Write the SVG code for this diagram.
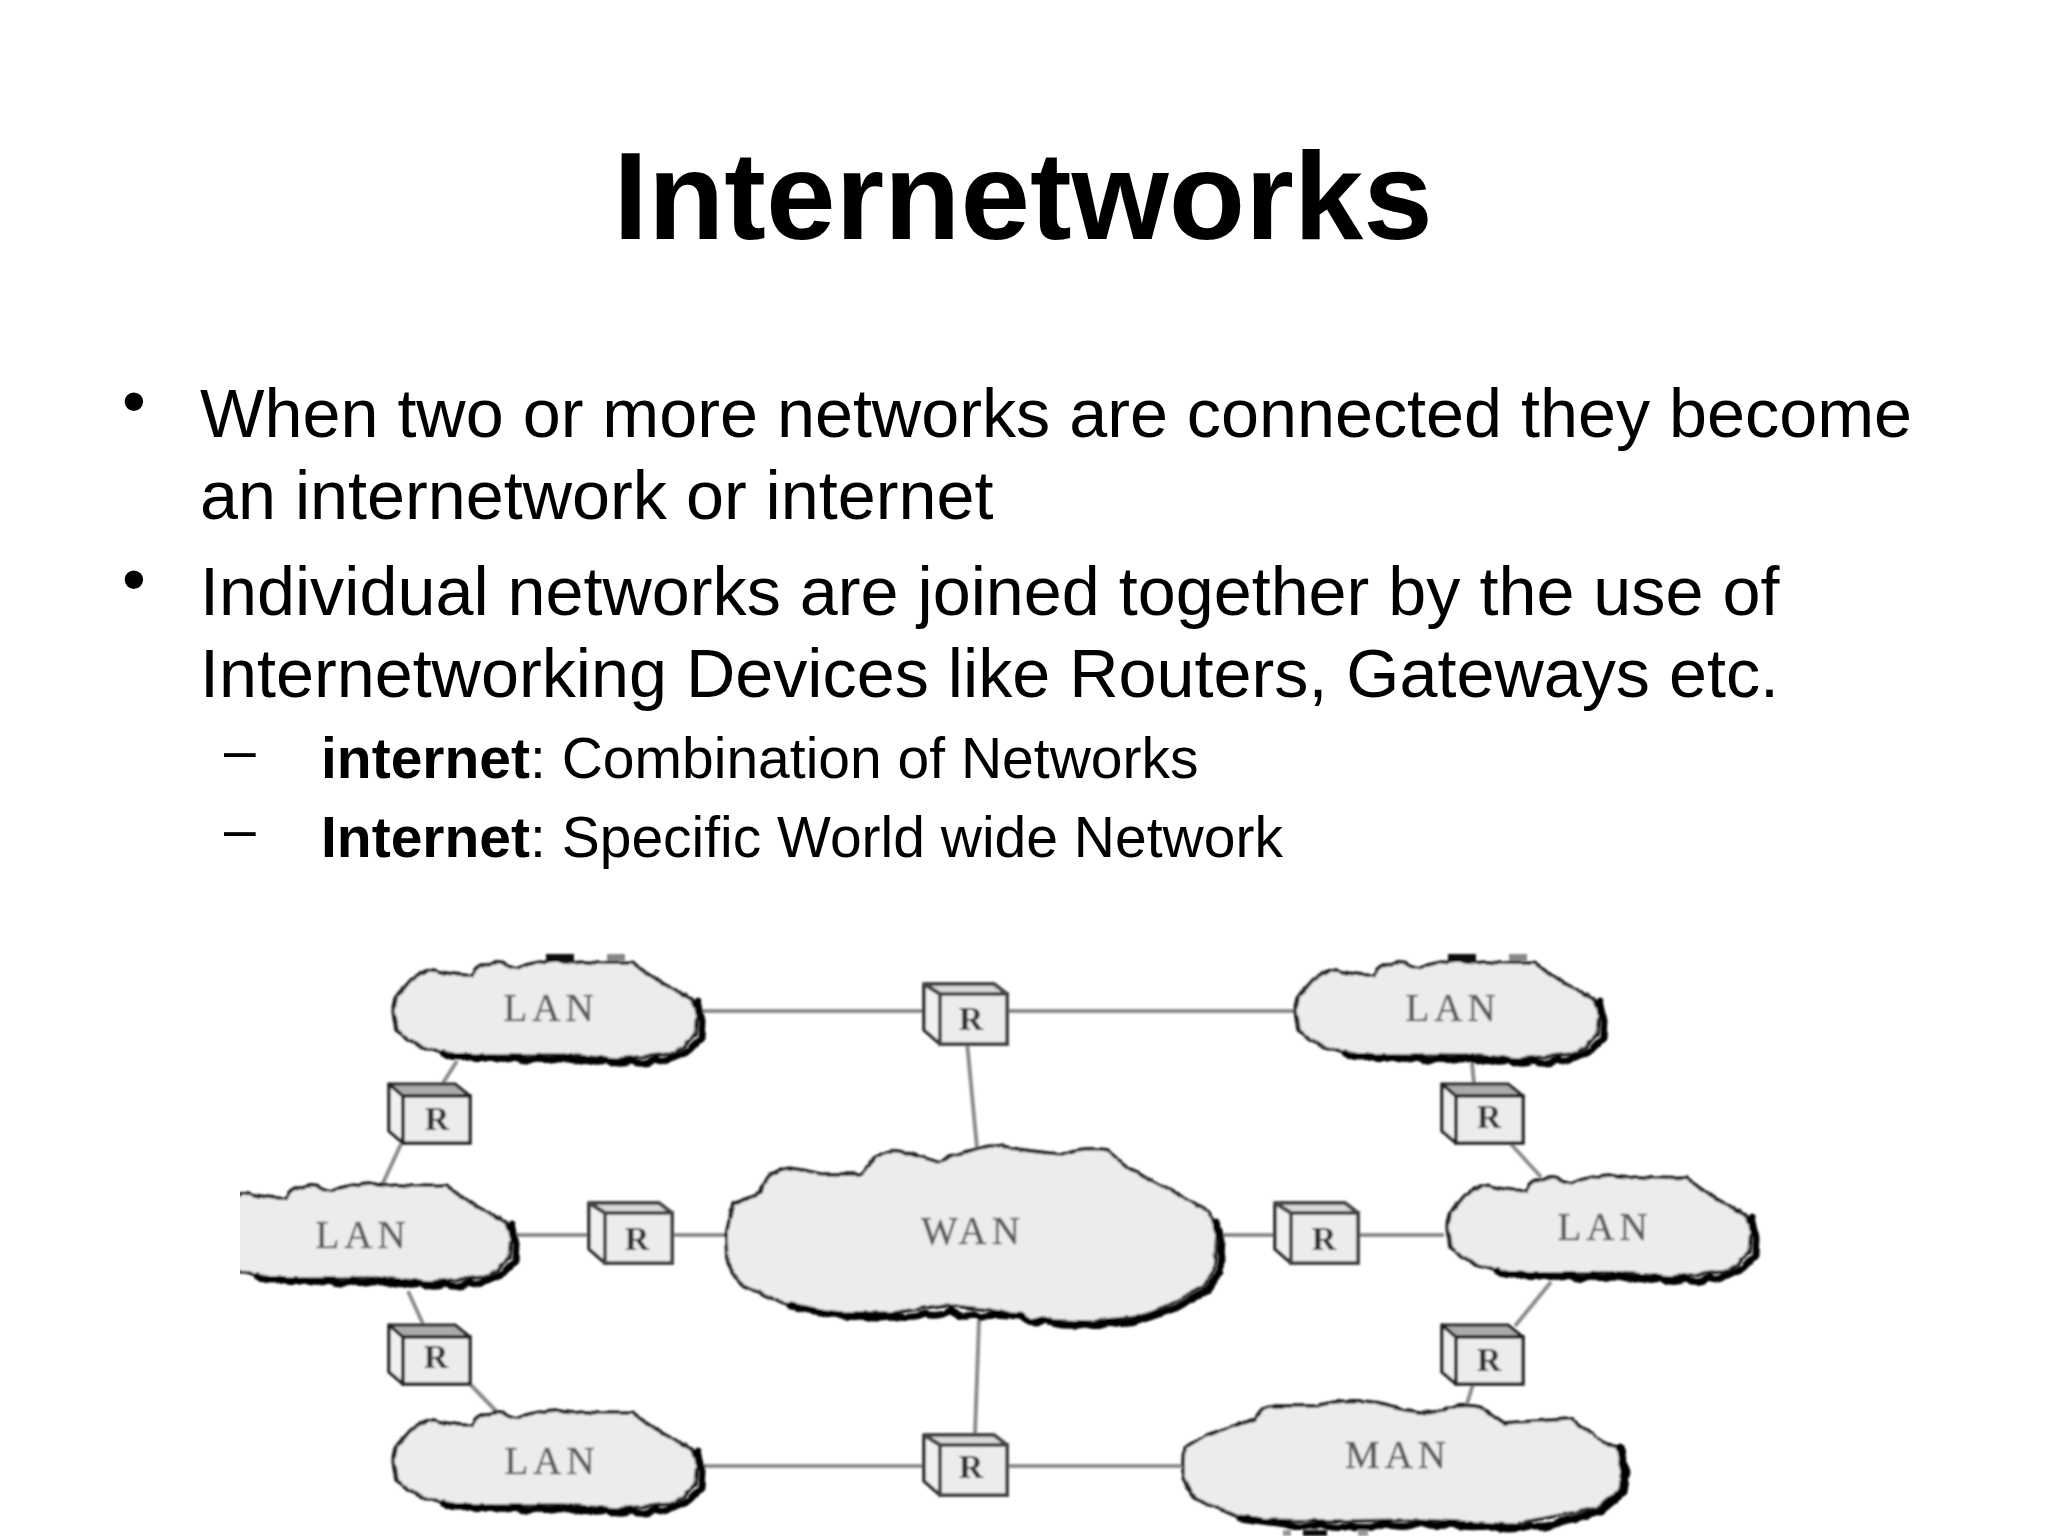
<svg xmlns="http://www.w3.org/2000/svg" width="2048" height="1536" viewBox="0 0 2048 1536">
<style>
.t{font-family:"Liberation Sans",Arial,sans-serif;fill:#000}
.b{font-size:68.3px}.s{font-size:57px}
.cl{fill:#ececec;stroke:#1e1e1e;stroke-width:3.5;stroke-linejoin:round}
.sh{fill:none;stroke:#000;stroke-width:7;stroke-linejoin:round;stroke-linecap:round}
.lb{font-family:"Liberation Serif",serif;font-size:39px;fill:#555;stroke:#777;stroke-width:.7;text-anchor:middle;letter-spacing:5px}
.rl{font-family:"Liberation Serif",serif;font-size:34px;font-weight:bold;fill:#333;text-anchor:middle}
.c{stroke:#8c8c8c;stroke-width:4;fill:none}
.f{fill:#ececec;stroke:#222;stroke-width:3.5}
.fd{fill:#ececec;stroke:#444;stroke-width:4}
.tp{fill:#aaa;stroke:#222;stroke-width:3;stroke-linejoin:round}
.tpd{fill:#d8d8d8;stroke:#444;stroke-width:4;stroke-linejoin:round}
.lf{fill:#f0f0f0;stroke:#222;stroke-width:3.5;stroke-linejoin:round}
</style>
<defs>
<filter id="soft" x="-5%" y="-5%" width="110%" height="110%"><feGaussianBlur stdDeviation="0.8"/></filter>
<filter id="rough" x="-5%" y="-10%" width="110%" height="120%"><feTurbulence type="fractalNoise" baseFrequency="0.07" numOctaves="2" seed="4"/><feDisplacementMap in="SourceGraphic" scale="5" xChannelSelector="R" yChannelSelector="G"/></filter>
<clipPath id="imgclip"><rect x="240" y="940" width="1530" height="596"/></clipPath>
<path id="lan" d="M0 51Q0 38 8 32Q14 24 18 20Q26 12 41 10Q62 16 79 15Q84 6 92 5Q102 1 112 4Q122 9 128 7Q145 1 163 0Q175 4 190 2Q215 4 240 3L260 18L298 39Q304 46 304 55L302 74L291 86L276 94L224 99L168 95L117 95L56 95L26 86L3 70Z"/>
<path id="lans" d="M304 42L309 60L308 78L296 90L278 98Q270 104 262 100Q250 106 238 101Q226 106 214 100Q204 105 192 99Q180 104 170 97Q158 103 146 98Q134 103 122 97Q110 102 98 97Q86 101 74 96Q62 99 50 93"/>
<g id="r">
<path class="lf" d="M0 0L14 12V59L0 47Z"/><path class="tp" d="M0 0H66L81 12H14Z"/><rect class="f" x="14" y="12" width="67" height="47"/>
</g>
<g id="rd">
<path class="lf" d="M0 0L16 10V60L0 46Z"/><path class="tpd" d="M0 0H70L83 10H16Z"/><path d="M16 10H83V16H16Z" fill="#555"/><rect class="fd" x="16" y="10" width="67" height="50"/>
</g>
</defs>
<rect width="2048" height="1536" fill="#fff"/>
<text class="t" x="1023" y="239" font-size="125" font-weight="bold" text-anchor="middle">Internetworks</text>
<g id="bullets">
<text class="t" x="122" y="424" font-size="68">•</text>
<text class="t b" x="200" y="437">When two or more networks are connected they become</text>
<text class="t b" x="200" y="519">an internetwork or internet</text>
<text class="t" x="122" y="602" font-size="68">•</text>
<text class="t b" x="200" y="615">Individual networks are joined together by the use of</text>
<text class="t b" x="200" y="697">Internetworking Devices like Routers, Gateways etc.</text>
<text class="t s" x="224" y="770">–</text>
<text class="t s" x="321" y="778"><tspan font-weight="bold">internet</tspan>: Combination of Networks</text>
<text class="t s" x="224" y="849">–</text>
<text class="t s" x="321" y="857"><tspan font-weight="bold">Internet</tspan>: Specific World wide Network</text>
</g>
<g clip-path="url(#imgclip)" filter="url(#soft)">
<g id="connectors" class="c">
<path d="M702 1011H924M1008 1011H1295M967 1042L977 1148M457 1061L443 1083M401 1144L383 1183M516 1235H590M671 1235H726M408 1291L423 1324M470 1384L496 1411M979 1320L975 1434M702 1466H924M1008 1466H1183M1472 1063L1474 1083M1510 1143L1541 1177M1224 1235H1274M1359 1235H1444M1551 1282L1515 1326M1473 1384L1467 1404"/>
</g>
<g id="lan-top-left" transform="translate(393 960)"><g filter="url(#rough)"><use href="#lan" class="cl"/><use href="#lans" class="sh"/></g><rect x="153" y="-6" width="28" height="7" fill="#111"/><rect x="214" y="-6" width="18" height="7" fill="#888"/></g>
<text class="lb" x="551" y="1021">LAN</text>
<g id="lan-top-right" transform="translate(1295 960)"><g filter="url(#rough)"><use href="#lan" class="cl"/><use href="#lans" class="sh"/></g><rect x="153" y="-6" width="28" height="7" fill="#111"/><rect x="214" y="-6" width="18" height="7" fill="#888"/></g>
<text class="lb" x="1453" y="1021">LAN</text>
<g id="lan-mid-left" transform="translate(207 1183)"><g filter="url(#rough)"><use href="#lan" class="cl"/><use href="#lans" class="sh"/></g></g>
<text class="lb" x="363" y="1248">LAN</text>
<g id="lan-mid-right" transform="translate(1447 1175) scale(1 1.03)"><g filter="url(#rough)"><use href="#lan" class="cl"/><use href="#lans" class="sh"/></g></g>
<text class="lb" x="1605" y="1240">LAN</text>
<g id="lan-bottom-left" transform="translate(393 1410)"><g filter="url(#rough)"><use href="#lan" class="cl"/><use href="#lans" class="sh"/></g></g>
<text class="lb" x="552" y="1474">LAN</text>
<g id="wan" filter="url(#rough)">
<path class="cl" d="M726 1235L733 1204L761 1193Q765 1176 771 1174Q785 1166 796 1169L822 1174L863 1174Q870 1158 878 1156Q890 1148 903 1152Q925 1158 937 1162Q965 1150 995 1145Q1030 1152 1061 1154Q1085 1146 1107 1150L1128 1168L1168 1189L1209 1212L1217 1235L1214 1270L1204 1286L1173 1303L1138 1317L1087 1322L1031 1320L1000 1311L944 1305L893 1313L842 1313L791 1307L740 1284L727 1262Z"/>
<path class="sh" d="M1216 1222L1222 1240L1220 1272L1208 1290L1176 1308L1140 1320Q1125 1326 1110 1322Q1098 1328 1085 1324Q1060 1328 1045 1320Q1030 1326 1020 1314Q1008 1320 995 1314Q985 1320 974 1314Q962 1320 950 1310Q940 1318 925 1314Q910 1320 893 1316Q875 1318 860 1316Q840 1318 820 1312L790 1306"/>
</g>
<text class="lb" x="973" y="1244">WAN</text>
<g id="man">
<g filter="url(#rough)">
<path class="cl" d="M1183 1460L1184 1448L1204 1436L1255 1419Q1262 1406 1270 1406L1316 1406Q1345 1398 1372 1402Q1405 1412 1434 1413Q1458 1402 1480 1407L1503 1423L1571 1419L1597 1438L1617 1448L1623 1471L1620 1490L1597 1508L1510 1525L1418 1520L1337 1521L1245 1520L1194 1498L1183 1479Z"/>
<path class="sh" d="M1620 1448L1627 1472L1624 1492L1600 1512L1560 1522Q1545 1530 1530 1526Q1510 1532 1490 1526Q1470 1528 1450 1524Q1435 1528 1420 1522Q1405 1530 1385 1524Q1370 1530 1350 1526Q1335 1530 1320 1524Q1300 1530 1285 1524L1240 1518"/>
</g>
<rect x="1303" y="1530" width="24" height="6" fill="#111"/><rect x="1283" y="1530" width="8" height="6" fill="#999"/><rect x="1358" y="1530" width="10" height="6" fill="#999"/>
</g>
<text class="lb" x="1398" y="1468">MAN</text>
<g id="r-top"><use href="#rd" x="924" y="984"/><text class="rl" x="971" y="1030">R</text></g>
<g id="r-tl"><use href="#r" x="389" y="1084"/><text class="rl" x="437" y="1130">R</text></g>
<g id="r-ml"><use href="#rd" x="589" y="1203"/><text class="rl" x="637" y="1250">R</text></g>
<g id="r-bl"><use href="#r" x="389" y="1325"/><text class="rl" x="436" y="1368">R</text></g>
<g id="r-bm"><use href="#rd" x="924" y="1435"/><text class="rl" x="971" y="1478">R</text></g>
<g id="r-tr"><use href="#r" x="1442" y="1084"/><text class="rl" x="1489" y="1128">R</text></g>
<g id="r-mr"><use href="#rd" x="1275" y="1203"/><text class="rl" x="1324" y="1250">R</text></g>
<g id="r-br"><use href="#r" x="1442" y="1325"/><text class="rl" x="1489" y="1371">R</text></g>
</g>
</svg>
